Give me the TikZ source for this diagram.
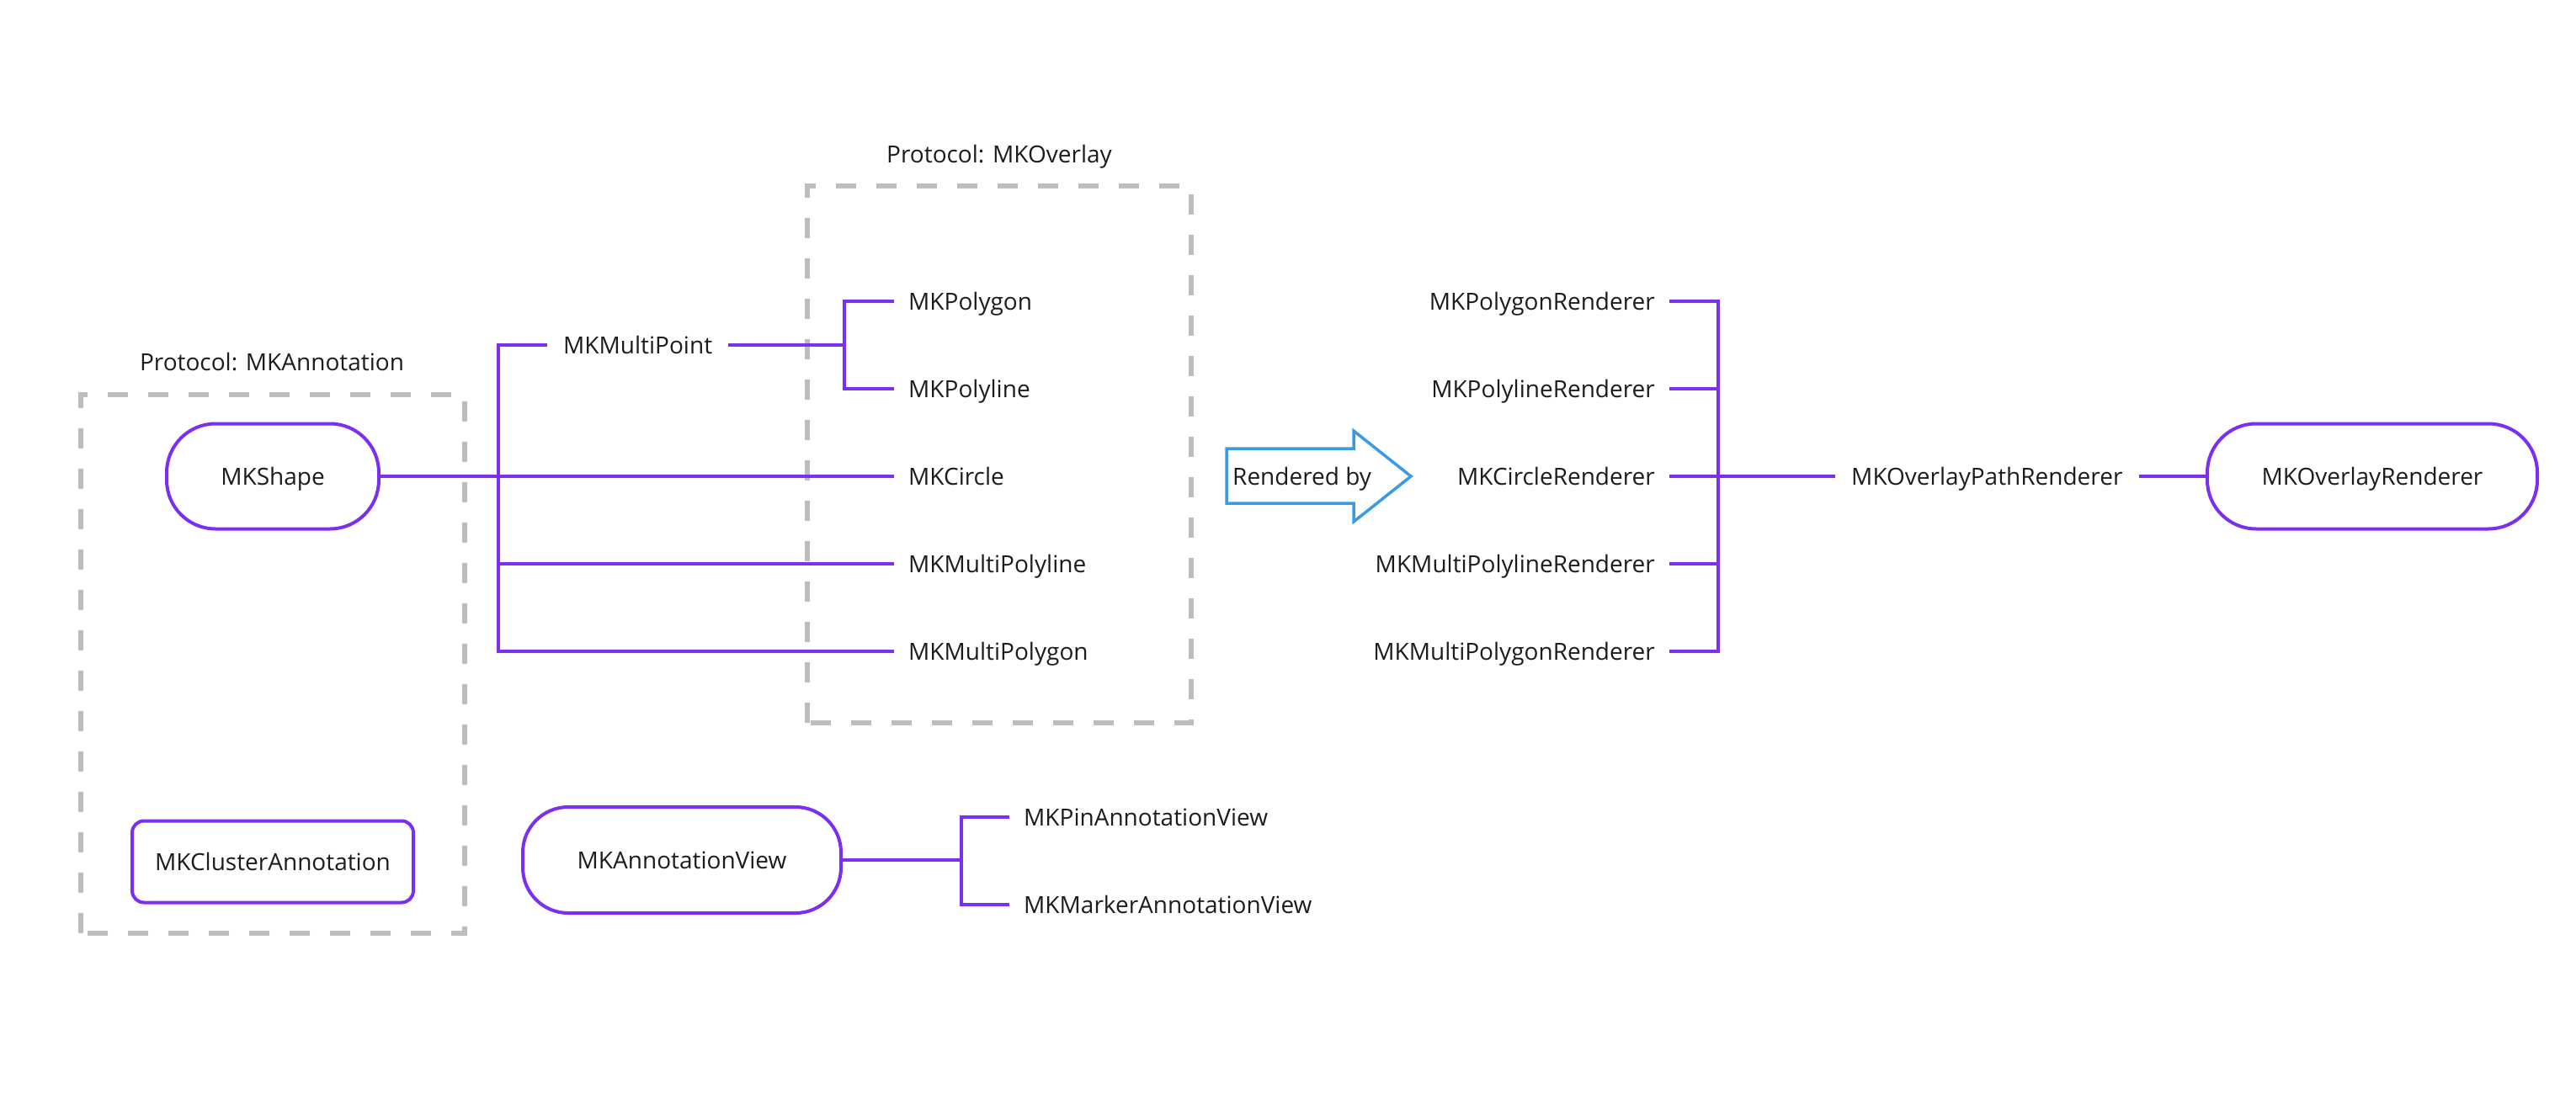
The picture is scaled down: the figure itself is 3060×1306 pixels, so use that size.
\documentclass[tikz,border=0pt]{standalone}
\usepackage{fontspec}
\setmainfont{Open Sans}
\definecolor{purp}{HTML}{7B2FF0}
\definecolor{dgray}{HTML}{BDBDBD}
\definecolor{arrblue}{HTML}{3A9BE3}
\definecolor{txt}{HTML}{1C1C1C}
\tikzset{
  lbl/.style={font=\fontsize{28}{34}\selectfont, text=txt, inner xsep=17pt, inner ysep=4pt, text height=20pt, text depth=0pt},
  stadium/.style={lbl, draw=purp, line width=4pt, rounded corners=58pt, minimum height=125pt},
  roundbox/.style={lbl, draw=purp, line width=4pt, rounded corners=14pt},
  conn/.style={draw=purp, line width=4pt},
  protobox/.style={draw=dgray, line width=6pt, dash pattern=on 24pt off 24pt},
  blueshape/.style={draw=arrblue, line width=3.5pt, line join=miter}
}
\begin{document}
\begin{tikzpicture}[x=1pt,y=-1pt]
\useasboundingbox (0,0) rectangle (3060,1306);

% protocol boxes
\draw[protobox] (96,1109) -- (96,469) -- (552,469) -- (552,1109) -- cycle;
\node[lbl] (lannot) at (323,430) {Protocol: MKAnnotation};
\draw[protobox] (959,859) -- (959,221) -- (1415,221) -- (1415,859) -- cycle;
\node[lbl] (loverlay) at (1187,183) {Protocol: MKOverlay};

% left nodes
\node[stadium, minimum width=252pt] (shape) at (324,566) {MKShape};
\node[roundbox, minimum width=334pt, minimum height=97pt] (cluster) at (324,1024) {MKClusterAnnotation};
\node[stadium, minimum width=378pt, minimum height=126pt, rounded corners=54pt] (aview) at (810,1022) {MKAnnotationView};

% overlay classes
\node[lbl, anchor=west, inner xsep=19pt] (mp) at (650,410) {MKMultiPoint};
\node[lbl, anchor=west] (poly) at (1062,358) {MKPolygon};
\node[lbl, anchor=west] (pline) at (1062,462) {MKPolyline};
\node[lbl, anchor=west] (circle) at (1062,566) {MKCircle};
\node[lbl, anchor=west] (mpline) at (1062,670) {MKMultiPolyline};
\node[lbl, anchor=west] (mpoly) at (1062,774) {MKMultiPolygon};

\coordinate (j1) at (592,566);
\coordinate (j2) at (1003,410);
\draw[conn] (shape.east) -- (circle.west);
\draw[conn] (mp.west) -| (j1) |- (mpoly.west);
\draw[conn] (j1) |- (mpline.west);
\draw[conn] (mp.east) -- (j2);
\draw[conn] (poly.west) -| (j2) |- (pline.west);

% rendered-by arrow
\draw[blueshape] (1457,533) -- (1608,533) -- (1608,512) -- (1676,566) -- (1608,620) -- (1608,598) -- (1457,598) -- cycle;
\node[lbl, anchor=west, inner xsep=0pt] (rby) at (1464,566) {Rendered by};

% renderers
\node[lbl, anchor=east] (rpoly) at (1983,358) {MKPolygonRenderer};
\node[lbl, anchor=east] (rpline) at (1983,462) {MKPolylineRenderer};
\node[lbl, anchor=east] (rcircle) at (1983,566) {MKCircleRenderer};
\node[lbl, anchor=east] (rmpline) at (1983,670) {MKMultiPolylineRenderer};
\node[lbl, anchor=east] (rmpoly) at (1983,774) {MKMultiPolygonRenderer};
\node[lbl, anchor=west, inner xsep=19pt] (opr) at (2180,566) {MKOverlayPathRenderer};
\node[stadium, minimum width=392pt] (orend) at (2818,566) {MKOverlayRenderer};

\coordinate (j3) at (2041,566);
\draw[conn] (rpoly.east) -| (j3) |- (rmpoly.east);
\draw[conn] (rpline.east) -| (j3);
\draw[conn] (rmpline.east) -| (j3);
\draw[conn] (rcircle.east) -- (opr.west);
\draw[conn] (opr.east) -- (orend.west);

% annotation views
\node[lbl, anchor=west] (pin) at (1199,971) {MKPinAnnotationView};
\node[lbl, anchor=west] (marker) at (1199,1075) {MKMarkerAnnotationView};
\coordinate (j4) at (1142,1022);
\draw[conn] (aview.east) -- (j4);
\draw[conn] (pin.west) -| (j4) |- (marker.west);
\end{tikzpicture}
\end{document}
